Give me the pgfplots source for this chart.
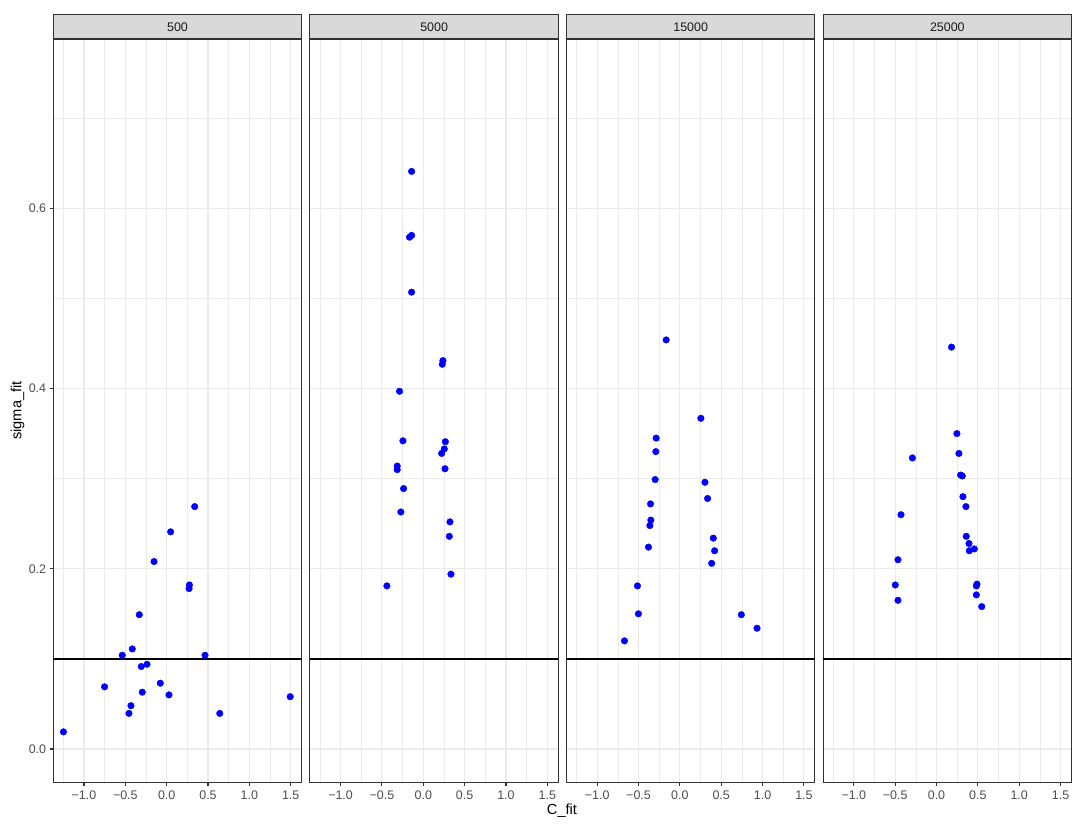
\documentclass[border=0pt]{standalone}
\usepackage{pgfplots}
\pgfplotsset{compat=1.18}
\usepackage{fontspec}
\setmainfont{Liberation Sans}
\definecolor{c10}{HTML}{1A1A1A}
\definecolor{c20}{HTML}{333333}
\definecolor{c30}{HTML}{4D4D4D}
\definecolor{c92}{HTML}{EBEBEB}
\definecolor{stripgray}{HTML}{D9D9D9}
\definecolor{ptblue}{HTML}{0000FF}

\pgfplotstableread{
x y
0.339 0.269
0.048 0.241
-0.153 0.208
0.275 0.182
0.271 0.178
-0.331 0.149
-0.416 0.111
-0.537 0.104
0.464 0.104
-0.238 0.094
-0.307 0.0915
-0.751 0.069
-0.077 0.073
-0.295 0.063
0.028 0.060
-0.432 0.048
-0.456 0.0395
0.642 0.0395
1.494 0.058
-1.248 0.019
}\dataA

\pgfplotstableread{
x y
-0.141 0.641
-0.141 0.570
-0.166 0.568
-0.141 0.507
0.238 0.431
0.230 0.427
-0.287 0.397
-0.246 0.342
0.267 0.341
0.254 0.333
0.222 0.328
-0.315 0.314
-0.315 0.310
0.263 0.311
-0.238 0.289
-0.271 0.263
0.323 0.252
0.315 0.236
0.335 0.194
-0.440 0.181
}\dataB

\pgfplotstableread{
x y
-0.166 0.454
0.254 0.367
-0.287 0.345
-0.291 0.330
-0.299 0.299
0.303 0.296
0.335 0.278
-0.355 0.272
-0.351 0.254
-0.363 0.248
0.404 0.234
0.420 0.220
-0.380 0.224
0.384 0.206
-0.513 0.181
-0.501 0.150
0.743 0.149
0.933 0.134
-0.670 0.120
}\dataC

\pgfplotstableread{
x y
0.182 0.446
0.247 0.350
0.271 0.328
-0.291 0.323
0.291 0.304
0.312 0.303
0.320 0.280
0.356 0.269
-0.429 0.260
0.360 0.236
0.393 0.228
0.397 0.220
0.457 0.222
-0.466 0.210
-0.498 0.182
0.490 0.183
0.482 0.181
0.482 0.171
-0.466 0.165
0.547 0.158
}\dataD

\pgfplotsset{
  panel/.style={
    width=248.4bp, height=743.3bp, scale only axis,
    xmin=-1.371, xmax=1.633, ymin=-0.037, ymax=0.788,
    axis line style={draw=c20, line width=1.1bp},
    xtick={-1,-0.5,0,0.5,1,1.5},
    xticklabels={−1.0,−0.5,0.0,0.5,1.0,1.5},
    minor xtick={-1.25,-0.75,-0.25,0.25,0.75,1.25},
    ytick={0,0.2,0.4,0.6},
    minor ytick={0.1,0.3,0.5,0.7},
    grid=both,
    major grid style={draw=c92, line width=1.1bp},
    minor grid style={draw=c92, line width=0.55bp},
    minor tick length=0pt,
    major tick length=3.7bp,
    tick align=outside,
    xtick pos=bottom, ytick pos=left,
    tick style={draw=c20, line width=1.1bp},
    tick label style={font=\fontsize{12.5}{14}\selectfont, text=c30},
    xticklabel style={yshift=-1bp},
    clip=false,
  },
  pts/.style={only marks, mark=*, mark size=3.3bp, draw=ptblue, fill=ptblue, mark options={draw=ptblue, fill=ptblue}},
  hl/.style={black, line width=1.4bp, no marks},
}

\begin{document}
\begin{tikzpicture}[x=1bp,y=1bp]
\useasboundingbox (0,0) rectangle (1085,838);

\begin{axis}[panel, name=p1, at={(53.3bp,55.7bp)}, anchor=south west,
  yticklabels={0.0,0.2,0.4,0.6}]
\addplot[hl] coordinates {(-1.371,0.1) (1.633,0.1)};
\addplot[pts] table[x=x,y=y] {\dataA};
\end{axis}

\begin{axis}[panel, name=p2, at={(309.9bp,55.7bp)}, anchor=south west,
  yticklabels={}, ytick style={draw=none}]
\addplot[hl] coordinates {(-1.371,0.1) (1.633,0.1)};
\addplot[pts] table[x=x,y=y] {\dataB};
\end{axis}

\begin{axis}[panel, name=p3, at={(566.5bp,55.7bp)}, anchor=south west,
  yticklabels={}, ytick style={draw=none}]
\addplot[hl] coordinates {(-1.371,0.1) (1.633,0.1)};
\addplot[pts] table[x=x,y=y] {\dataC};
\end{axis}

\begin{axis}[panel, name=p4, at={(823.1bp,55.7bp)}, anchor=south west,
  yticklabels={}, ytick style={draw=none}]
\addplot[hl] coordinates {(-1.371,0.1) (1.633,0.1)};
\addplot[pts] table[x=x,y=y] {\dataD};
\end{axis}

\foreach \p/\t in {p1/500,p2/5000,p3/15000,p4/25000}{
  \draw[draw=c20, fill=stripgray, line width=1.1bp] (\p.north west) rectangle ([yshift=24.5bp]\p.north east);
  \node[text=c10, font=\fontsize{12.5}{14}\selectfont] at ([yshift=12.25bp]\p.north) {\t};
}

\node[font=\fontsize{14.7}{16}\selectfont] at (562,27) {C\_fit};
\node[font=\fontsize{14.7}{16}\selectfont, rotate=90] at (17.5,427.5) {sigma\_fit};
\end{tikzpicture}
\end{document}
